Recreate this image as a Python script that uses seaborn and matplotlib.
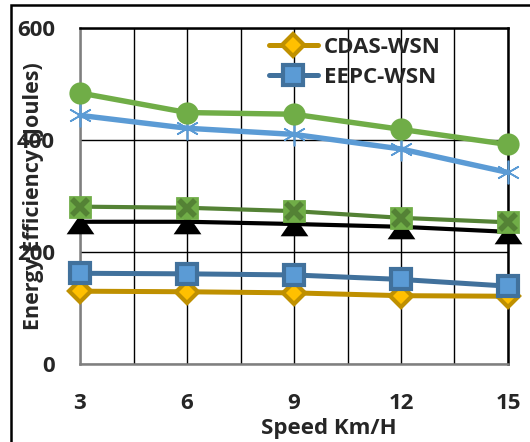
import numpy as np
import pandas as pd
import matplotlib
matplotlib.use("Agg")
import matplotlib.pyplot as plt
import seaborn as sns
from matplotlib.patches import Rectangle
from matplotlib.ticker import MultipleLocator

speed = [3, 6, 9, 12, 15]
cdas = [130, 129, 127, 122, 121]
eepc = [162, 161, 159, 151, 139]
black_series = [254, 254, 250, 245, 236]
xsq_series = [281, 279, 273, 261, 253]
star_series = [444, 421, 410, 384, 342]
circle_series = [484, 449, 446, 419, 392]
y_ticks = [0, 200, 400, 600]
x_ticks = [3, 6, 9, 12, 15]

sns.set_style("white")
plt.rcParams['font.family'] = ['Open Sans', 'DejaVu Sans']
plt.rcParams['font.weight'] = 'bold'

fig = plt.figure(figsize=(5.3, 4.42), dpi=100)
ax = fig.add_axes([80/530, 1-364/442, 428/530, 336/442])

common = dict(ax=ax, clip_on=False)

# gold diamonds
sns.lineplot(x=speed, y=cdas, color='#BF9000', lw=3.6, marker='D', ms=11,
             mfc='#FFC000', mec='#BF9000', mew=3, label='CDAS-WSN', zorder=3, **common)
# blue squares
sns.lineplot(x=speed, y=eepc, color='#41719C', lw=3.6, marker='s', ms=14,
             mfc='#5B9BD5', mec='#41719C', mew=3, label='EEPC-WSN', zorder=3, **common)
# black triangles
tri = [(-1, -0.85), (1, -0.85), (0, 0.6), (-1, -0.85)]
sns.lineplot(x=speed, y=black_series, color='black', lw=3, marker=tri, ms=20,
             mfc='black', mec='black', mew=0, label='_nolegend_', zorder=3, **common)
# green x-squares
sns.lineplot(x=speed, y=xsq_series, color='#548235', lw=3, marker='s', ms=15,
             mfc='#70AD47', mec='#70AD47', mew=2, label='_nolegend_', zorder=3, **common)
ax.plot(speed, xsq_series, ls='none', marker='x', ms=12, mec='#548235', mew=4,
        zorder=4, clip_on=False)
# blue stars
sns.lineplot(x=speed, y=star_series, color='#5B9BD5', lw=3.9, marker=(6, 2, 0), ms=17,
             mec='#5B9BD5', mew=1.2, label='_nolegend_', zorder=3, **common)
# green circles
sns.lineplot(x=speed, y=circle_series, color='#70AD47', lw=3.9, marker='o', ms=16,
             mfc='#70AD47', mec='#70AD47', mew=0, label='_nolegend_', zorder=3, **common)

ax.set_xlim(3, 15)
ax.set_ylim(0, 600)
ax.set_xticks(x_ticks)
ax.xaxis.set_minor_locator(MultipleLocator(1.5))
ax.set_yticks(y_ticks)
ax.grid(True, which='both', axis='x', color='black', lw=1)
ax.grid(True, which='major', axis='y', color='black', lw=1)
ax.set_axisbelow(True)
ax.tick_params(axis='both', which='both', length=0, labelsize=16)
ax.tick_params(axis='y', pad=18)
ax.tick_params(axis='x', pad=21)
for lab in ax.get_xticklabels() + ax.get_yticklabels():
    lab.set_fontweight('bold')

for s in ['top', 'right']:
    ax.spines[s].set_color('black')
    ax.spines[s].set_linewidth(1.8)
for s in ['left', 'bottom']:
    ax.spines[s].set_color('#7F7F7F')
    ax.spines[s].set_linewidth(1.8)

ax.set_xlabel('Speed Km/H', fontsize=16, fontweight='bold')
ax.set_ylabel('Energy Efficiency (Joules)', fontsize=15.5, fontweight='bold')
ax.xaxis.set_label_coords(0.582, -0.16)
ax.yaxis.set_label_coords(-0.084, 0.5)

leg = ax.legend(loc='upper left', bbox_to_anchor=(0.42, 1.0), frameon=False,
                handlelength=2.2, handletextpad=0.3, labelspacing=0.4,
                borderaxespad=0.0, prop={'weight': 'bold', 'size': 16})

fig.patches.append(Rectangle((11/530, -0.1), 1.2, (442-5)/442 + 0.1, fill=False,
                             lw=1.8, ec='black', transform=fig.transFigure, figure=fig))

fig.savefig('out.png', dpi=100)
